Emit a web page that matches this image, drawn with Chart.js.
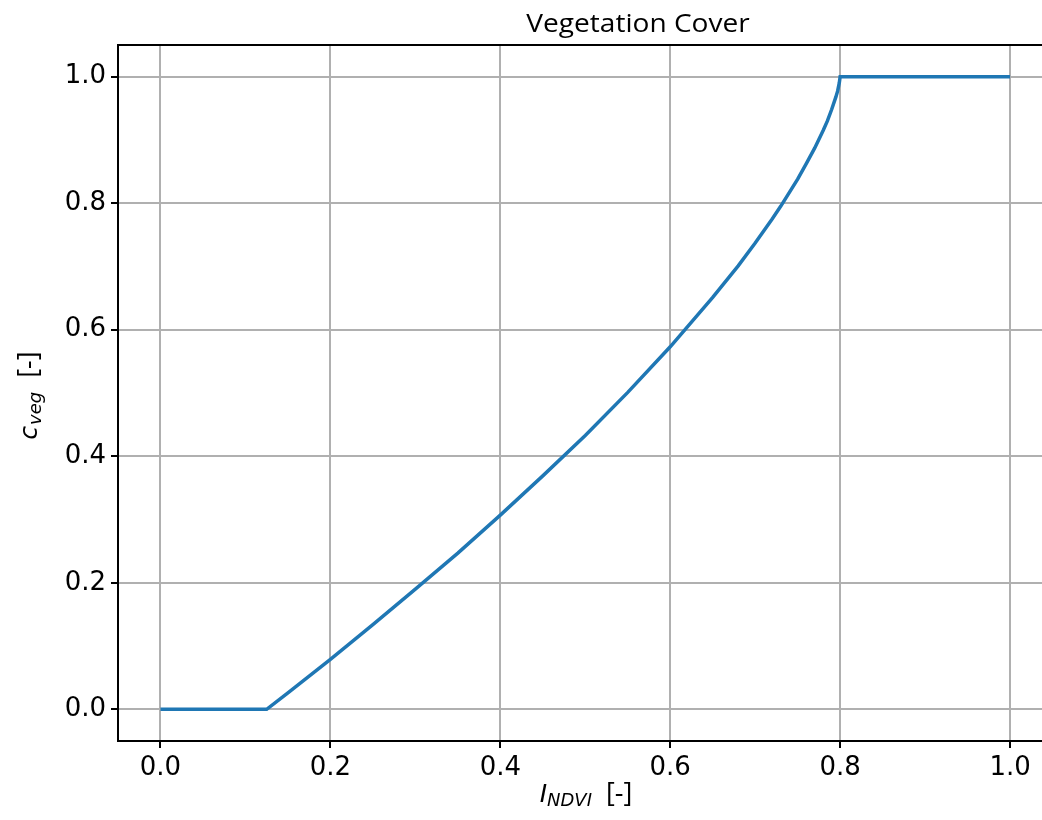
<!DOCTYPE html>
<html>
<head>
<meta charset="utf-8">
<script src="https://cdn.jsdelivr.net/npm/chart.js@4/dist/chart.umd.min.js"></script>
<style>
  html, body { margin: 0; padding: 0; background: #fff; }
  #holder { width: 1042px; height: 820px; }
</style>
</head>
<body>
<div id="holder">
  <canvas id="myChart" width="1042" height="820"></canvas>
</div>
<script>
// values
var ndvi = [0.0, 0.125, 0.15, 0.2, 0.25, 0.3, 0.35, 0.4, 0.45, 0.5, 0.55, 0.6, 0.65, 0.68, 0.7, 0.72, 0.73, 0.75, 0.76, 0.77, 0.78, 0.785, 0.79, 0.795, 0.797, 0.799, 0.8, 1.0];
var cveg = [0.0, 0.0, 0.026, 0.079, 0.134, 0.19, 0.247, 0.307, 0.369, 0.433, 0.501, 0.573, 0.651, 0.701, 0.737, 0.775, 0.795, 0.838, 0.862, 0.887, 0.915, 0.93, 0.948, 0.968, 0.977, 0.99, 1.0, 1.0];
var xTicks = [0.0, 0.2, 0.4, 0.6, 0.8, 1.0];
var yTicks = [0.0, 0.2, 0.4, 0.6, 0.8, 1.0];
var titulo = 'Vegetation Cover';

var puntos = ndvi.map(function (x, i) { return { x: x, y: cveg[i] }; });

// title, top spine and axis labels with subscripts
var decoracion = {
    id: 'decoracion',
    afterDraw: function (chart) {
        var ctx = chart.ctx;
        var a = chart.chartArea;
        ctx.save();
        // top spine
        ctx.strokeStyle = '#000';
        ctx.lineWidth = 2;
        ctx.beginPath();
        ctx.moveTo(a.left - 1, a.top);
        ctx.lineTo(a.right, a.top);
        ctx.stroke();

        // title (slightly stretched like the original)
        ctx.fillStyle = '#000';
        ctx.textBaseline = 'alphabetic';
        ctx.save();
        ctx.translate(638, 32);
        ctx.scale(1.08, 1);
        ctx.font = '500 26px "Open Sans"';
        ctx.textAlign = 'center';
        ctx.fillText(titulo, 0, 0);
        ctx.restore();

        // x label: I_NDVI [-]
        var f1 = 'italic 25px "DejaVu Sans"', f2 = 'italic 18px "DejaVu Sans"', f3 = '27px "Open Sans"';
        ctx.font = f1; var w1 = ctx.measureText('I').width;
        ctx.font = f2; var w2 = ctx.measureText('NDVI').width;
        ctx.font = f3; var w3 = ctx.measureText('  [-]').width;
        var x0 = 586 - (w1 + w2 + w3) / 2, by = 802;
        ctx.textAlign = 'left';
        ctx.font = f1; ctx.fillText('I', x0, by);
        ctx.font = f2; ctx.fillText('NDVI', x0 + w1, by + 4);
        ctx.font = f3; ctx.fillText('  [-]', x0 + w1 + w2, by);

        // y label: c_veg [-]
        ctx.translate(37, 396);
        ctx.rotate(-Math.PI / 2);
        ctx.font = f1; w1 = ctx.measureText('c').width;
        ctx.font = f2; w2 = ctx.measureText('veg').width;
        ctx.font = f3; w3 = ctx.measureText('  [-]').width;
        x0 = -(w1 + w2 + w3) / 2;
        ctx.font = f1; ctx.fillText('c', x0, 0);
        ctx.font = f2; ctx.fillText('veg', x0 + w1 + 1, 4);
        ctx.font = f3; ctx.fillText('  [-]', x0 + w1 + w2 + 1, 0);
        ctx.restore();
    }
};

var ctx = document.getElementById('myChart').getContext('2d');
var config = {
    type: 'scatter',
    data: {
        datasets: [{
            data: puntos,
            showLine: true,
            borderColor: '#1f77b4',
            borderWidth: 3.5,
            pointRadius: 0,
            fill: false,
            tension: 0
        }]
    },
    options: {
        responsive: false,
        animation: false,
        layout: { padding: { top: 45, right: 0, left: 0, bottom: 0 } },
        plugins: {
            legend: { display: false },
            title: { display: false },
            tooltip: { enabled: false }
        },
        scales: {
            x: {
                type: 'linear',
                min: -0.05,
                max: 1.0376,
                afterBuildTicks: function (s) { s.ticks = xTicks.map(function (v) { return { value: v }; }); },
                afterFit: function (s) { s.height = 79; },
                grid: { color: '#b0b0b0', lineWidth: 2, tickColor: '#000', tickLength: 7, tickWidth: 2 },
                border: { color: '#000', width: 2 },
                ticks: {
                    color: '#000',
                    font: { family: 'DejaVu Sans', size: 26 },
                    padding: 5,
                    maxRotation: 0,
                    callback: function (v) { return v.toFixed(1); }
                }
            },
            y: {
                type: 'linear',
                min: -0.05,
                max: 1.05,
                afterBuildTicks: function (s) { s.ticks = yTicks.map(function (v) { return { value: v }; }); },
                afterFit: function (s) { s.width = 118; },
                grid: { color: '#b0b0b0', lineWidth: 2, tickColor: '#000', tickLength: 7, tickWidth: 2 },
                border: { color: '#000', width: 2 },
                ticks: {
                    color: '#000',
                    font: { family: 'DejaVu Sans', size: 26 },
                    padding: 5,
                    callback: function (v) { return v.toFixed(1); }
                }
            }
        }
    },
    plugins: [decoracion]
};

window.miGrafico = new Chart(ctx, config);
</script>
</body>
</html>
